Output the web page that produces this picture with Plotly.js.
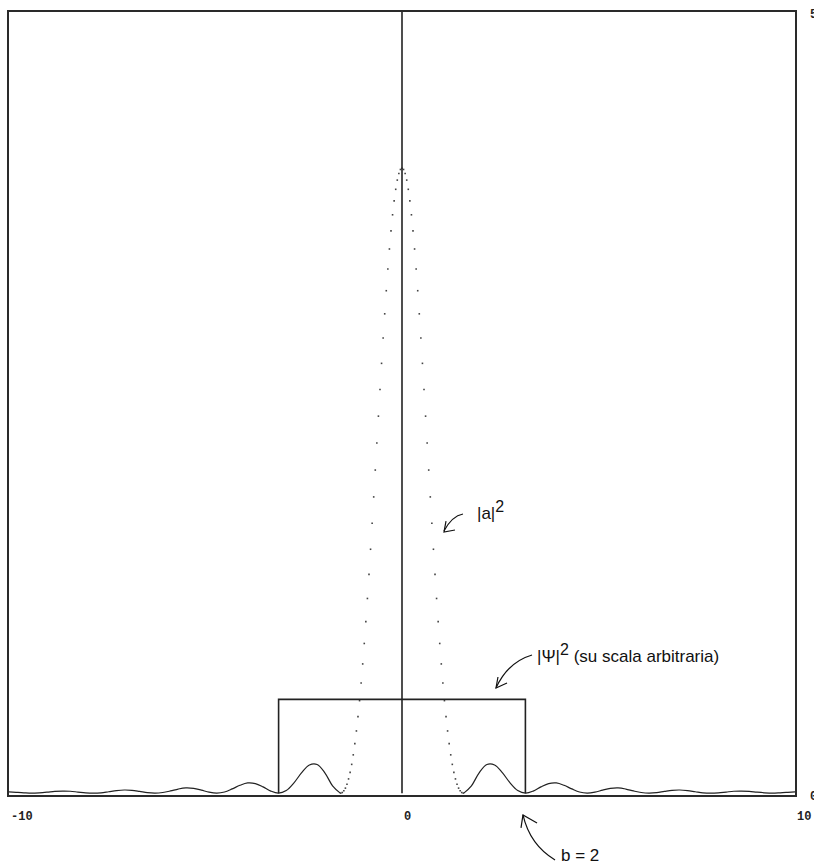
<!DOCTYPE html>
<html>
<head>
<meta charset="utf-8">
<script src="https://cdn.plot.ly/plotly-3.0.1.min.js"></script>
<style>body{margin:0;background:#fff}</style>
</head>
<body>
<div id="chart" style="width:814px;height:866px"></div>
<script>
// Main lobe of |a|^2 (dotted), positive half
const lobeX = [0,0.04,0.08,0.12,0.16,0.20,0.24,0.28,0.32,0.36,0.40,0.44,0.48,0.52,0.56,0.60,0.64,0.68,0.72,0.76,0.80,0.84,0.88,0.92,0.96,1.00,1.04,1.08,1.12,1.16,1.20,1.24,1.28,1.32,1.36,1.40,1.44,1.48,1.52,1.56];
const lobeY = [4.000,3.992,3.966,3.924,3.865,3.791,3.702,3.599,3.483,3.355,3.216,3.068,2.913,2.751,2.584,2.413,2.241,2.068,1.896,1.727,1.561,1.400,1.246,1.098,0.958,0.827,0.705,0.592,0.490,0.398,0.317,0.245,0.184,0.133,0.091,0.057,0.032,0.015,0.004,0.000];
// Side lobes of |a|^2 (solid), positive half
const tailX = [1.571,1.767,1.963,2.160,2.356,2.553,2.749,2.945,3.142,3.338,3.534,3.731,3.927,4.123,4.320,4.516,4.712,4.909,5.105,5.301,5.498,5.694,5.890,6.087,6.283,6.480,6.676,6.872,7.069,7.265,7.461,7.658,7.854,8.050,8.247,8.443,8.639,8.836,9.032,9.228,9.425,9.621,9.817,10];
const tailY = [0,0.047,0.130,0.183,0.180,0.131,0.066,0.017, 0,0.013,0.040,0.061,0.065,0.050,0.027,0.007, 0,0.006,0.019,0.030,0.033,0.026,0.014,0.004, 0,0.003,0.011,0.018,0.020,0.016,0.009,0.002, 0,0.002,0.007,0.012,0.013,0.011,0.006,0.002, 0,0.002,0.005,0.008];
// |Psi|^2 box (arbitrary scale)
const boxX = [-3.14,-3.14,3.14,3.14];
const boxY = [0,0.6,0.6,0];
// vertical axis line at x = 0
const vlineX = [0,0];
const vlineY = [0,5];
// tick labels
const xTickVals = [-10,0,10];
const xTickText = ['-10','0','10'];
const yTickVals = [0,5];
const yTickText = ['0','5'];

const mirrorX = a => a.slice().reverse().map(v => -v);
const mirrorY = a => a.slice().reverse();

const fullLobeX = mirrorX(lobeX.slice(1)).concat(lobeX);
const fullLobeY = mirrorY(lobeY.slice(1)).concat(lobeY);

const ink = '#222';
const traces = [
  {x: mirrorX(tailX), y: mirrorY(tailY), mode:'lines', line:{color:ink,width:1.2,shape:'spline'}, hoverinfo:'skip'},
  {x: tailX, y: tailY, mode:'lines', line:{color:ink,width:1.2,shape:'spline'}, hoverinfo:'skip'},
  {x: fullLobeX, y: fullLobeY, mode:'markers', marker:{color:'#444',size:1.6,symbol:'square'}, hoverinfo:'skip'},
  {x: boxX, y: boxY, mode:'lines', line:{color:ink,width:1.6}, hoverinfo:'skip'},
  {x: vlineX, y: vlineY, mode:'lines', line:{color:ink,width:1.6}, hoverinfo:'skip'}
];

// pixel -> paper helpers for decorative arrows
const L=9, W=786, B=795, H=783;
const P = (px,py) => ((px-L)/W).toFixed(4)+','+((B-py)/H).toFixed(4);
const arrowLine = {color:'#111', width:1.2};
const shapes = [
  {type:'path', xref:'paper', yref:'paper', path:'M'+P(463,514)+' Q'+P(452,516)+' '+P(444,531), line:arrowLine},
  {type:'path', xref:'paper', yref:'paper', path:'M'+P(455,530)+' L'+P(444,532)+' L'+P(446,521), line:arrowLine},
  {type:'path', xref:'paper', yref:'paper', path:'M'+P(532,655)+' Q'+P(508,662)+' '+P(496,688), line:arrowLine},
  {type:'path', xref:'paper', yref:'paper', path:'M'+P(498,677)+' L'+P(496,688)+' L'+P(507,683), line:arrowLine},
  {type:'path', xref:'paper', yref:'paper', path:'M'+P(555,860)+' Q'+P(530,845)+' '+P(523,815), line:arrowLine},
  {type:'path', xref:'paper', yref:'paper', path:'M'+P(521,828)+' L'+P(523,815)+' L'+P(537,823), line:arrowLine}
];

const tickFont = {family:'Liberation Mono, monospace', size:12, color:'#222', weight:'bold'};
const textFont = {family:'Liberation Sans, Arial, sans-serif', size:17, color:'#111'};
const sup2 = '<sup><span style="font-size:16px">2</span></sup>';
const annotations = [];
xTickVals.forEach((v,i) => annotations.push({x:v, xref:'x', y:(B-817)/H, yref:'paper', text:'<b>'+xTickText[i]+'</b>', showarrow:false, xanchor:'left', yanchor:'middle', font:tickFont}));
yTickVals.forEach((v,i) => annotations.push({x:(808-L)/W, xref:'paper', y:v, yref:'y', yshift:(v===0?-4:-3), text:'<b>'+yTickText[i]+'</b>', showarrow:false, xanchor:'left', yanchor:'middle', font:tickFont}));
annotations.push({x:(475-L)/W, xref:'paper', y:(B-510)/H, yref:'paper', text:'|a|'+sup2, showarrow:false, xanchor:'left', yanchor:'middle', font:textFont});
annotations.push({x:(535-L)/W, xref:'paper', y:(B-653)/H, yref:'paper', text:'|Ψ|'+sup2+' (su scala arbitraria)', showarrow:false, xanchor:'left', yanchor:'middle', font:textFont});
annotations.push({x:(559-L)/W, xref:'paper', y:(B-856)/H, yref:'paper', text:'b = 2', showarrow:false, xanchor:'left', yanchor:'middle', font:textFont});

const layout = {
  width:814, height:866,
  margin:{l:L, r:814-L-W, t:B-H, b:866-B, pad:0},
  paper_bgcolor:'#fff', plot_bgcolor:'#fff',
  showlegend:false,
  xaxis:{range:[-10,10], showgrid:false, zeroline:false, showticklabels:false, ticks:'', showline:true, mirror:true, linecolor:'#2a2a2a', linewidth:2, fixedrange:true},
  yaxis:{range:[-0.012,5], showgrid:false, zeroline:false, showticklabels:false, ticks:'', showline:true, mirror:true, linecolor:'#2a2a2a', linewidth:2, fixedrange:true},
  shapes: shapes,
  annotations: annotations
};
Plotly.newPlot('chart', traces, layout, {displayModeBar:false, staticPlot:true});
</script>
</body>
</html>
